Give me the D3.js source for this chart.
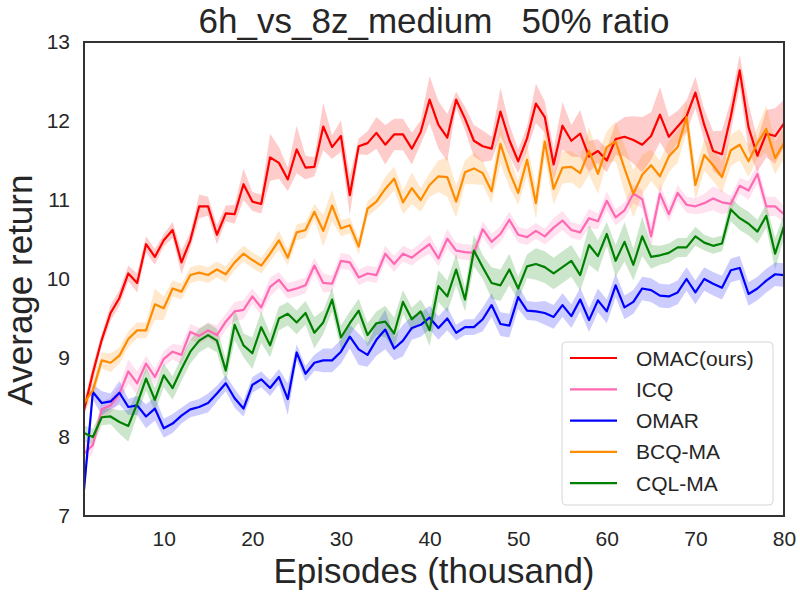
<!DOCTYPE html>
<html>
<head>
<meta charset="utf-8">
<script src="https://cdn.jsdelivr.net/npm/d3@7"></script>
<style>
  body { margin: 0; background: #fff; }
  text { font-family: "Liberation Sans", Arial, sans-serif; fill: #262626; }
</style>
</head>
<body>
<div class="chart"></div>
<script>
// series means (episode 1..80, thousand)
var omac = [8.34,8.81,9.23,9.57,9.76,10.07,9.95,10.44,10.28,10.49,
  10.62,10.21,10.49,10.92,10.92,10.56,10.83,10.82,11.20,10.98,
  10.95,11.54,11.47,11.26,11.64,11.41,11.42,11.93,11.67,11.81,
  11.06,11.68,11.72,11.85,11.70,11.83,11.83,11.65,11.86,12.27,
  11.95,11.79,12.27,12.03,11.75,11.68,11.65,12.12,11.76,11.49,
  11.78,12.22,12.05,11.45,11.94,11.75,11.84,11.55,11.62,11.50,
  11.77,11.80,11.76,11.70,11.81,12.08,11.80,11.93,12.06,12.36,
  11.95,11.62,11.58,12.06,12.64,11.92,11.56,11.84,11.81,11.97];
var icq = [7.79,7.90,8.35,8.40,8.55,8.83,8.68,8.93,8.76,8.99,
  9.08,9.04,9.33,9.28,9.35,9.29,9.46,9.59,9.61,9.78,
  9.64,9.90,9.99,9.85,9.88,9.92,10.17,9.95,9.94,10.23,
  10.21,10.02,10.07,10.05,10.32,10.19,10.32,10.27,10.36,10.44,
  10.26,10.51,10.36,10.34,10.33,10.63,10.47,10.57,10.75,10.56,
  10.53,10.61,10.54,10.65,10.74,10.62,10.59,10.77,10.73,10.99,
  10.78,10.87,11.08,11.01,10.54,11.08,10.82,11.09,10.94,10.92,
  10.96,11.02,10.97,10.95,11.18,11.12,11.33,10.92,10.92,10.82];
var omar = [7.33,8.57,8.43,8.45,8.56,8.38,8.40,8.26,8.36,8.11,
  8.17,8.27,8.35,8.38,8.43,8.55,8.68,8.49,8.36,8.66,
  8.73,8.62,8.76,8.48,9.07,8.80,8.94,8.97,8.97,9.08,
  9.27,9.11,9.04,9.23,9.36,9.12,9.22,9.38,9.42,9.51,
  9.38,9.50,9.32,9.39,9.39,9.49,9.67,9.43,9.41,9.77,
  9.60,9.59,9.57,9.52,9.67,9.53,9.74,9.48,9.73,9.59,
  9.92,9.64,9.71,9.88,9.86,9.79,9.78,9.83,10.00,9.83,
  10.00,9.94,9.89,10.11,10.14,9.81,9.88,9.98,10.06,10.05];
var bcq = [8.43,8.59,8.97,8.94,9.03,9.24,9.35,9.35,9.68,9.63,
  9.88,9.84,10.05,10.08,10.05,10.12,10.06,10.21,10.32,10.24,
  10.17,10.32,10.49,10.27,10.59,10.62,10.85,10.61,10.93,10.64,
  10.68,10.41,10.89,10.98,11.14,11.27,10.97,11.15,11.00,11.19,
  11.30,11.29,10.98,11.35,11.40,11.34,11.11,11.71,11.36,11.09,
  11.51,10.96,11.74,11.14,11.41,11.42,11.34,11.62,11.33,11.67,
  11.74,11.40,11.08,11.32,11.44,11.30,11.55,11.67,12.05,11.19,
  11.57,11.44,11.29,11.63,11.70,11.49,11.72,11.90,11.53,11.72];
var cql = [8.05,8.00,8.25,8.26,8.19,8.14,8.42,8.74,8.47,8.78,
  8.62,8.86,9.08,9.22,9.29,9.22,8.84,9.42,9.16,9.06,
  9.39,9.16,9.50,9.56,9.45,9.57,9.32,9.45,9.74,9.26,
  9.44,9.60,9.29,9.44,9.46,9.31,9.71,9.49,9.59,9.35,
  9.91,9.78,10.12,9.74,10.36,10.15,9.95,9.92,10.12,9.88,
  10.16,10.19,10.15,10.07,10.15,10.23,10.05,10.43,10.29,10.57,
  10.23,10.47,10.18,10.54,10.28,10.30,10.33,10.40,10.40,10.54,
  10.46,10.42,10.45,10.88,10.77,10.70,10.60,10.80,10.32,10.67];

// half widths of the shaded bands
var omacSd = [0.1,0.1,0.08,0.1,0.1,0.1,0.12,0.1,0.1,0.08,
  0.1,0.15,0.1,0.15,0.12,0.12,0.1,0.12,0.2,0.12,
  0.12,0.3,0.2,0.15,0.3,0.15,0.12,0.3,0.15,0.2,
  0.25,0.1,0.15,0.2,0.25,0.2,0.2,0.2,0.15,0.3,
  0.3,0.3,0.1,0.15,0.2,0.2,0.15,0.3,0.2,0.15,
  0.15,0.25,0.2,0.2,0.3,0.2,0.3,0.2,0.15,0.15,
  0.2,0.25,0.3,0.35,0.3,0.35,0.25,0.2,0.2,0.2,
  0.2,0.25,0.3,0.2,0.2,0.3,0.2,0.3,0.35,0.3];
var icqSd = [0.15,0.1,0.1,0.1,0.1,0.15,0.15,0.1,0.1,0.1,
  0.1,0.12,0.1,0.1,0.1,0.12,0.1,0.12,0.12,0.1,
  0.1,0.12,0.1,0.1,0.1,0.1,0.1,0.12,0.1,0.1,
  0.1,0.1,0.1,0.1,0.1,0.1,0.1,0.1,0.1,0.12,
  0.1,0.12,0.1,0.1,0.1,0.1,0.1,0.1,0.1,0.1,
  0.1,0.1,0.1,0.12,0.12,0.1,0.1,0.12,0.1,0.12,
  0.1,0.1,0.12,0.12,0.15,0.12,0.1,0.1,0.1,0.1,
  0.12,0.15,0.15,0.1,0.1,0.12,0.12,0.12,0.12,0.1];
var omarSd = [0.1,0.1,0.15,0.1,0.15,0.1,0.12,0.15,0.15,0.12,
  0.12,0.1,0.1,0.1,0.12,0.1,0.1,0.12,0.1,0.1,
  0.1,0.1,0.1,0.2,0.1,0.1,0.1,0.15,0.15,0.15,
  0.15,0.2,0.15,0.2,0.25,0.15,0.2,0.15,0.15,0.15,
  0.15,0.15,0.1,0.1,0.1,0.15,0.15,0.15,0.15,0.15,
  0.12,0.12,0.15,0.15,0.15,0.15,0.15,0.15,0.15,0.15,
  0.15,0.15,0.15,0.15,0.15,0.15,0.15,0.15,0.15,0.15,
  0.15,0.15,0.15,0.15,0.15,0.15,0.15,0.15,0.15,0.15];
var bcqSd = [0.1,0.1,0.1,0.12,0.1,0.1,0.1,0.1,0.2,0.15,
  0.1,0.1,0.1,0.1,0.1,0.1,0.1,0.1,0.1,0.1,
  0.1,0.1,0.12,0.1,0.1,0.1,0.1,0.2,0.2,0.1,
  0.1,0.1,0.1,0.1,0.15,0.15,0.15,0.2,0.15,0.15,
  0.2,0.25,0.2,0.15,0.2,0.15,0.15,0.25,0.2,0.15,
  0.2,0.2,0.2,0.2,0.2,0.2,0.2,0.3,0.25,0.2,
  0.25,0.3,0.3,0.25,0.2,0.2,0.2,0.2,0.2,0.2,
  0.2,0.2,0.2,0.2,0.2,0.2,0.2,0.3,0.2,0.2];
var cqlSd = [0.1,0.1,0.1,0.1,0.15,0.2,0.15,0.15,0.15,0.15,
  0.15,0.15,0.15,0.15,0.15,0.15,0.15,0.2,0.15,0.2,
  0.2,0.15,0.15,0.15,0.15,0.15,0.2,0.15,0.15,0.15,
  0.15,0.15,0.15,0.15,0.2,0.2,0.15,0.15,0.15,0.2,
  0.2,0.2,0.2,0.15,0.2,0.15,0.2,0.2,0.2,0.15,
  0.15,0.2,0.2,0.2,0.2,0.2,0.2,0.25,0.2,0.15,
  0.2,0.25,0.2,0.25,0.15,0.12,0.12,0.12,0.12,0.12,
  0.1,0.1,0.1,0.15,0.15,0.15,0.15,0.15,0.2,0.15];

var names = ["OMAC(ours)", "ICQ", "OMAR", "BCQ-MA", "CQL-MA"];
var colors = ["#ff0000", "#ff69b4", "#0000ff", "#ff8c00", "#008000"];
var xTicks = [10, 20, 30, 40, 50, 60, 70, 80];
var yTicks = [7, 8, 9, 10, 11, 12, 13];

function init(){

  var w = 800, h = 597;
  var left = 84, right = 784, top = 42, bottom = 516;

  var svg = d3.select("div.chart")
              .append("svg")
              .attr("width", w)
              .attr("height", h);

  var xScale = d3.scaleLinear().domain([1, 80]).range([left, right]);
  var yScale = d3.scaleLinear().domain([7, 13]).range([bottom, top]);

  var allMeans = [omac, icq, omar, bcq, cql];
  var allSd = [omacSd, icqSd, omarSd, bcqSd, cqlSd];

  var area = d3.area()
      .x(function(d){ return xScale(d.x); })
      .y0(function(d){ return yScale(d.y - d.s); })
      .y1(function(d){ return yScale(d.y + d.s); });

  var line = d3.line()
      .x(function(d){ return xScale(d.x); })
      .y(function(d){ return yScale(d.y); });

  var plot = svg.append("g");

  function points(i){
    return allMeans[i].map(function(v, j){
      return {x: j + 1, y: v, s: allSd[i][j]};
    });
  }

  // bands first, then the lines on top
  allMeans.forEach(function(series, i){
    plot.append("path")
        .datum(points(i))
        .attr("d", area)
        .attr("fill", colors[i])
        .attr("fill-opacity", 0.2)
        .attr("stroke", "none");
  });
  allMeans.forEach(function(series, i){
    plot.append("path")
        .datum(points(i))
        .attr("d", line)
        .attr("fill", "none")
        .attr("stroke", colors[i])
        .attr("stroke-width", 2.2)
        .attr("stroke-linejoin", "round");
  });

  // axes
  var xAxis = d3.axisBottom(xScale).tickValues(xTicks).tickSize(0).tickPadding(15)
      .tickFormat(d3.format("d"));
  var yAxis = d3.axisLeft(yScale).tickValues(yTicks).tickSize(0).tickPadding(14)
      .tickFormat(d3.format("d"));

  var gx = svg.append("g")
      .attr("transform", "translate(0," + bottom + ")")
      .call(xAxis);
  gx.select(".domain").remove();
  gx.selectAll("text").style("font-size", "21px").attr("fill", "#262626");

  var gy = svg.append("g")
      .attr("transform", "translate(" + left + ",0)")
      .call(yAxis);
  gy.select(".domain").remove();
  gy.selectAll("text").style("font-size", "21px").attr("fill", "#262626");

  // frame
  svg.append("rect")
      .attr("x", left)
      .attr("y", top)
      .attr("width", right - left)
      .attr("height", bottom - top)
      .attr("fill", "none")
      .attr("stroke", "#333")
      .attr("stroke-width", 2);

  // titles
  svg.append("text")
      .attr("x", (left + right) / 2)
      .attr("y", 33)
      .attr("text-anchor", "middle")
      .style("font-size", "35px")
      .style("white-space", "pre")
      .text("6h_vs_8z_medium   50% ratio");

  svg.append("text")
      .attr("x", (left + right) / 2)
      .attr("y", 583)
      .attr("text-anchor", "middle")
      .style("font-size", "35px")
      .text("Episodes (thousand)");

  svg.append("text")
      .attr("transform", "translate(32,290) rotate(-90)")
      .attr("text-anchor", "middle")
      .style("font-size", "35px")
      .text("Average return");

  // legend
  var lg = svg.append("g").attr("transform", "translate(562,342)");
  lg.append("rect")
      .attr("width", 211)
      .attr("height", 163)
      .attr("rx", 4)
      .attr("fill", "#fff")
      .attr("fill-opacity", 0.8)
      .attr("stroke", "#d6d6d6")
      .attr("stroke-width", 1);

  names.forEach(function(n, i){
    var yy = 16 + i * 31.3;
    lg.append("line")
        .attr("x1", 8).attr("x2", 55)
        .attr("y1", yy).attr("y2", yy)
        .attr("stroke", colors[i])
        .attr("stroke-width", 2.2);
    lg.append("text")
        .attr("x", 74)
        .attr("y", yy + 7.5)
        .style("font-size", "21px")
        .text(n);
  });
}

window.onload = init;
</script>
</body>
</html>
